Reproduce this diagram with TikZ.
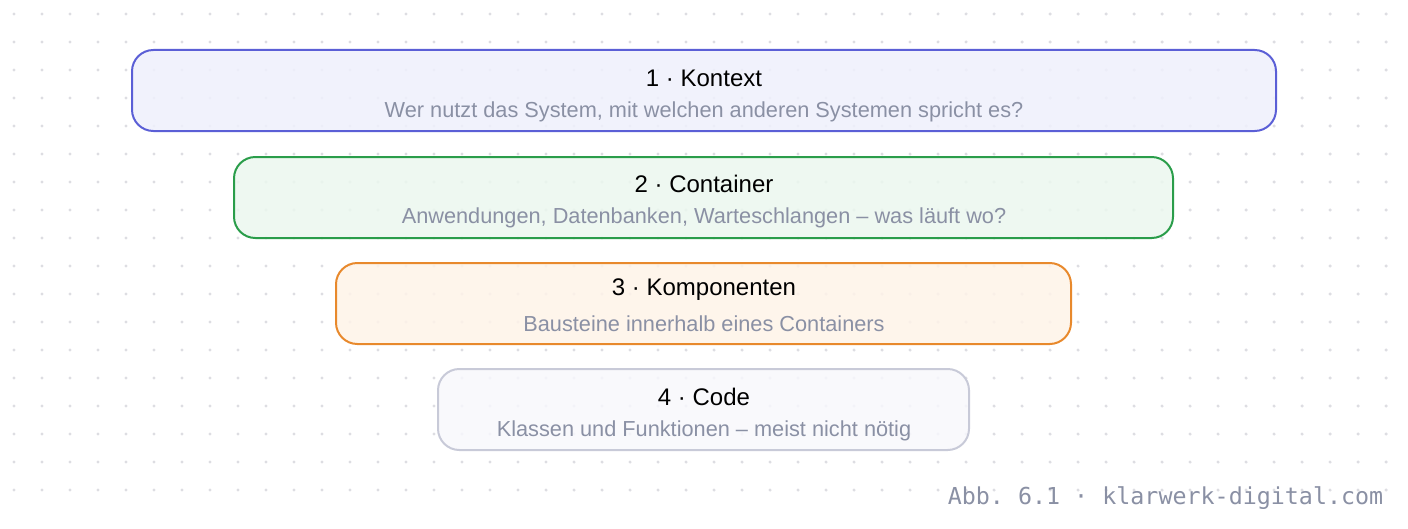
\documentclass[tikz,border=0pt]{standalone}
\usepackage{fontspec}
\setmainfont{Liberation Sans}
\setmonofont{DejaVu Sans Mono}
\definecolor{dotgray}{HTML}{DDDDE2}
\definecolor{subgray}{HTML}{8A90A4}
\definecolor{ctxline}{HTML}{5B5FD6}\definecolor{ctxfill}{HTML}{EFF0FC}
\definecolor{conline}{HTML}{2A9D4A}\definecolor{confill}{HTML}{EBF7EE}
\definecolor{komline}{HTML}{E8892C}\definecolor{komfill}{HTML}{FEF3E8}
\definecolor{codline}{HTML}{C8CAD8}\definecolor{codfill}{HTML}{F8F8FC}
\begin{document}
\begin{tikzpicture}[x=0.75pt,y=-0.75pt]
\tikzset{level/.style={draw,line width=1.5pt,rounded corners=16pt,fill opacity=0.85},
  title/.style={font=\fontsize{18}{20}\selectfont,text=black},
  sub/.style={font=\fontsize{16.3}{18}\selectfont,text=subgray}}
\useasboundingbox (0,0) rectangle (1408,528);
\foreach \i in {0,...,49} \foreach \j in {0,...,17}
  \fill[dotgray] (14+28*\i,14+28*\j) circle (1.3pt);

\draw[level,draw=ctxline,fill=ctxfill] (132,50) rectangle (1276,131);
\draw[level,draw=conline,fill=confill] (234,157) rectangle (1173,238);
\draw[level,draw=komline,fill=komfill] (336,263) rectangle (1071,344);
\draw[level,draw=codline,fill=codfill] (438,369) rectangle (969,450);

\node (t1) [title] at (704,78) {1 · Kontext};
\node (s1) [sub] at (704,112) {Wer nutzt das System, mit welchen anderen Systemen spricht es?};
\node (t2) [title] at (704,184) {2 · Container};
\node (s2) [sub] at (704,218) {Anwendungen, Datenbanken, Warteschlangen – was läuft wo?};
\node (t3) [title] at (704,290) {3 · Komponenten};
\node (s3) [sub] at (704,324) {Bausteine innerhalb eines Containers};
\node (t4) [title] at (704,397) {4 · Code};
\node (s4) [sub] at (704,431) {Klassen und Funktionen – meist nicht nötig};

\node (foot) [anchor=east,font=\ttfamily\fontsize{17.5}{19}\selectfont,text=subgray] at (1388,498) {Abb. 6.1 · klarwerk-digital.com};
\end{tikzpicture}
\end{document}
